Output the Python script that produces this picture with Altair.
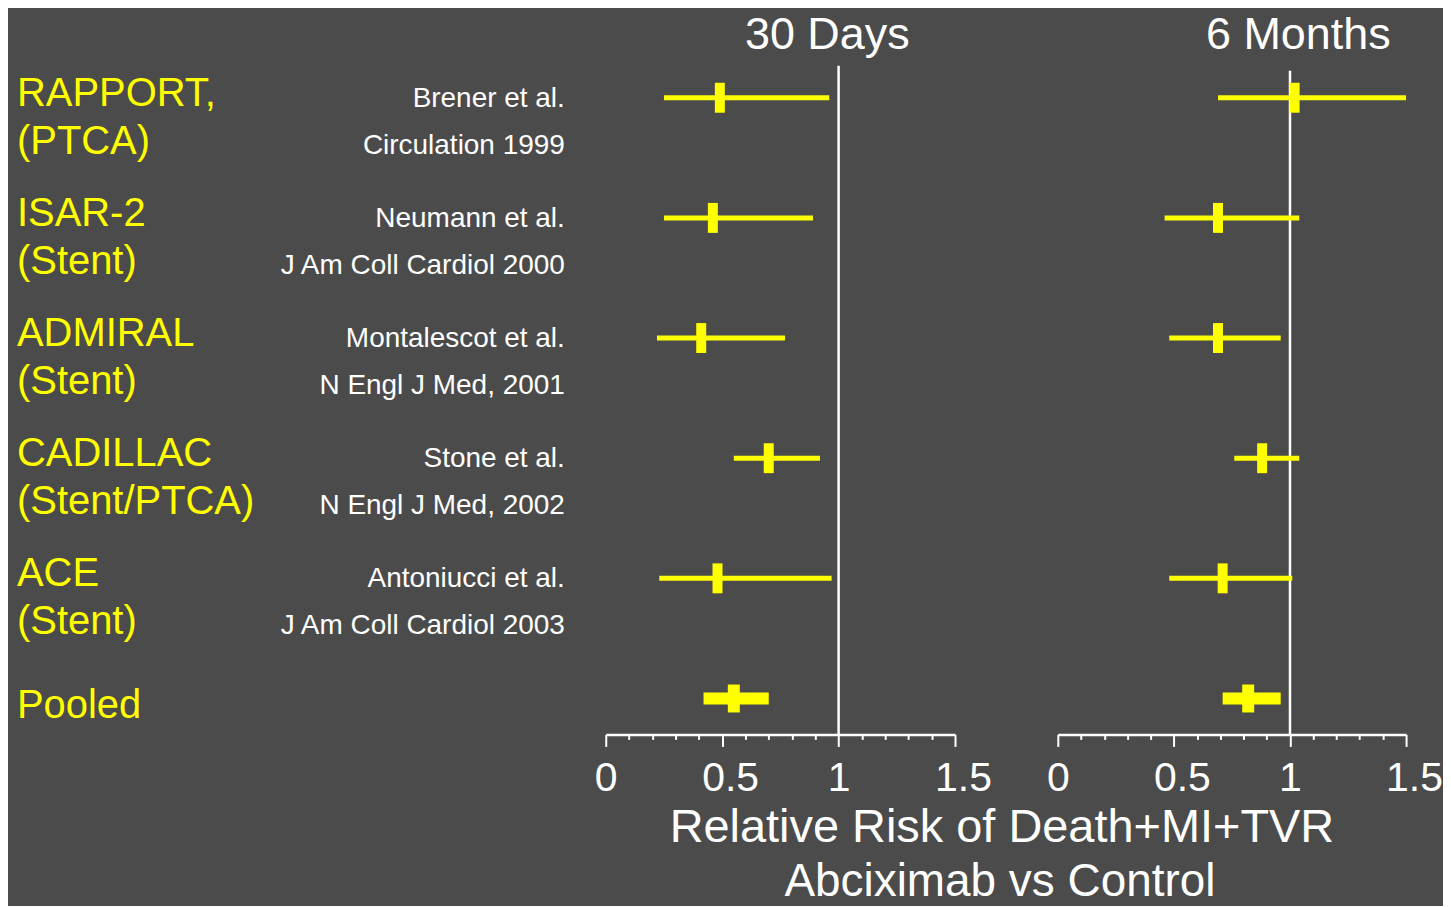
import altair as alt
import pandas as pd

# ---------------- data ----------------
studies = ["RAPPORT", "ISAR-2", "ADMIRAL", "CADILLAC", "ACE", "Pooled"]
name_line = ["RAPPORT,", "ISAR-2", "ADMIRAL", "CADILLAC", "ACE", "Pooled"]
design_line = ["(PTCA)", "(Stent)", "(Stent)", "(Stent/PTCA)", "(Stent)", ""]
authors = ["Brener et al.", "Neumann et al.", "Montalescot et al.",
           "Stone et al.", "Antoniucci et al.", ""]
journals = ["Circulation 1999", "J Am Coll Cardiol 2000", "N Engl J Med, 2001",
            "N Engl J Med, 2002", "J Am Coll Cardiol 2003", ""]

# 30 days: relative risk, lower and upper CI
rr_30 = [0.49, 0.46, 0.41, 0.70, 0.48, 0.55]
lo_30 = [0.25, 0.25, 0.22, 0.55, 0.23, 0.42]
hi_30 = [0.96, 0.89, 0.77, 0.92, 0.97, 0.70]

# 6 months
rr_6m = [1.02, 0.69, 0.69, 0.88, 0.71, 0.82]
lo_6m = [0.69, 0.46, 0.48, 0.76, 0.48, 0.71]
hi_6m = [1.50, 1.04, 0.96, 1.04, 1.01, 0.96]

ref_value = [1]
tick_values = [0, 0.1, 0.2, 0.3, 0.4, 0.5, 0.6, 0.7, 0.8, 0.9, 1.0,
               1.1, 1.2, 1.3, 1.4, 1.5]
panel_titles = ["30 Days", "6 Months"]
x_title = ["Relative Risk of Death+MI+TVR", "Abciximab vs Control"]

# ---------------- styling ----------------
BG = "#4b4b4b"
YEL = "#ffff00"
FONT = "Liberation Sans"
H = 727
YRANGE = [89, 691]

yenc = alt.Y("study:N",
             scale=alt.Scale(type="point", domain=studies, range=YRANGE, padding=0),
             axis=None)

major_test = "abs(datum.value*2 - round(datum.value*2)) < 0.001"
xaxis = alt.Axis(
    values=tick_values,
    format="~g",
    labelExpr=f"{major_test} ? datum.label : ''",
    tickSize={"condition": {"test": major_test, "value": 12}, "value": 5},
    labelOffset={"condition": {"test": "datum.value > 0 && (datum.value < 0.9 || datum.value > 1.1)",
                               "value": 8}, "value": 0},
    tickColor="white", tickWidth=2,
    domainColor="white", domainWidth=2.5,
    labelColor="white", labelFont=FONT, labelFontSize=41,
    labelPadding=12, labelFlush=False, labelOverlap=False,
    grid=False, title=None,
)
xscale = alt.Scale(domain=[0, 1.5], nice=False, zero=False)


def panel(rr, lo, hi, title, title_x, ref_top, width, extra=None):
    df = pd.DataFrame({"study": studies, "rr": rr, "lo": lo, "hi": hi})
    X = lambda f: alt.X(f, scale=xscale, axis=xaxis)
    base = alt.Chart(df)
    ref = alt.Chart(pd.DataFrame({"ref": ref_value})).mark_rule(
        color="white", strokeWidth=2.5
    ).encode(x=X("ref:Q"), y=alt.value(ref_top), y2=alt.value(H))
    ci = base.transform_filter("datum.study != 'Pooled'").mark_rule(
        color=YEL, strokeWidth=5
    ).encode(x=X("lo:Q"), x2="hi:Q", y=yenc)
    ci_pool = base.transform_filter("datum.study == 'Pooled'").mark_rule(
        color=YEL, strokeWidth=12
    ).encode(x=X("lo:Q"), x2="hi:Q", y=yenc)
    pt = base.transform_filter("datum.study != 'Pooled'").mark_tick(
        color=YEL, size=30, thickness=10, opacity=1
    ).encode(x=X("rr:Q"), y=yenc)
    pt_pool = base.transform_filter("datum.study == 'Pooled'").mark_tick(
        color=YEL, size=28, thickness=12, opacity=1
    ).encode(x=X("rr:Q"), y=yenc)
    ttl = alt.Chart(pd.DataFrame({"t": [title]})).mark_text(
        color="white", font=FONT, fontSize=45, align="center", baseline="middle"
    ).encode(text="t:N", x=alt.value(title_x), y=alt.value(26))
    layers = [ref, ci, ci_pool, pt, pt_pool, ttl]
    if extra is not None:
        layers += extra
    return alt.layer(*layers).properties(width=width, height=H)


# bottom axis title (drawn below the left panel, centred across both panels)
bottom = [
    alt.Chart(pd.DataFrame({"t": [x_title[0]]})).mark_text(
        color="white", font=FONT, fontSize=47, align="center", baseline="middle"
    ).encode(text="t:N", x=alt.value(397), y=alt.value(821)),
    alt.Chart(pd.DataFrame({"t": [x_title[1]]})).mark_text(
        color="white", font=FONT, fontSize=46, align="center", baseline="middle"
    ).encode(text="t:N", x=alt.value(395), y=alt.value(875)),
]

p30 = panel(rr_30, lo_30, hi_30, panel_titles[0], 222, 57, 350, bottom)
p6m = panel(rr_6m, lo_6m, hi_6m, panel_titles[1], 241, 62, 349)

# label panel
lab_df = pd.DataFrame({"study": studies, "name": name_line, "design": design_line,
                       "author": authors, "journal": journals})
lb = alt.Chart(lab_df)
name_t = lb.transform_filter("datum.study != 'Pooled'").mark_text(
    color=YEL, font=FONT, fontSize=40, align="left", baseline="middle", dy=-4
).encode(text="name:N", x=alt.value(9), y=yenc)
pool_t = lb.transform_filter("datum.study == 'Pooled'").mark_text(
    color=YEL, font=FONT, fontSize=40, align="left", baseline="middle", dy=8
).encode(text="name:N", x=alt.value(9), y=yenc)
design_t = lb.mark_text(
    color=YEL, font=FONT, fontSize=40, align="left", baseline="middle", dy=44
).encode(text="design:N", x=alt.value(9), y=yenc)
author_t = lb.mark_text(
    color="white", font=FONT, fontSize=28, align="right", baseline="middle", dy=1
).encode(text="author:N", x=alt.value(558), y=yenc)
journal_t = lb.mark_text(
    color="white", font=FONT, fontSize=28, align="right", baseline="middle", dy=48
).encode(text="journal:N", x=alt.value(558), y=yenc)
labels = alt.layer(name_t, pool_t, design_t, author_t, journal_t).properties(width=496, height=H)

chart = alt.hconcat(labels, p30, p6m, spacing=103, bounds="flush").properties(
    padding=0
).configure(background=BG).configure_view(strokeWidth=0)

chart.save("out.html", embed_options={"renderer": "svg", "actions": False})
